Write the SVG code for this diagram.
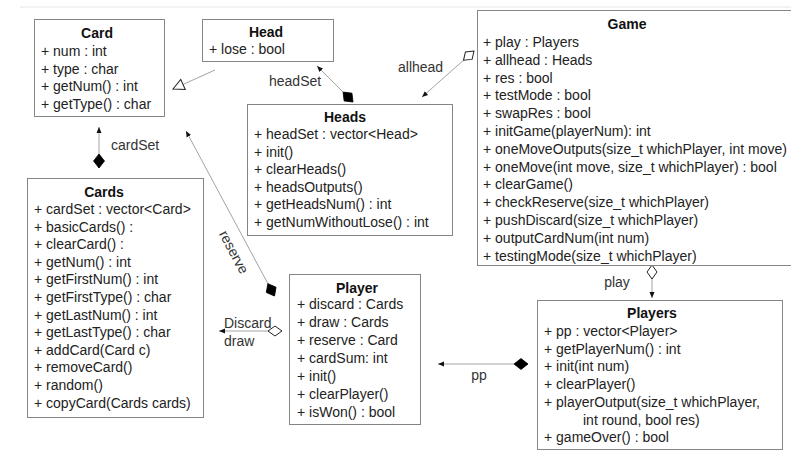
<svg xmlns="http://www.w3.org/2000/svg" width="791" height="454" viewBox="0 0 791 454">
<style>
.box{fill:#fff;stroke:#858585;stroke-width:1}
.t{font-family:"Liberation Sans",Arial,sans-serif;font-size:14px;fill:#222}
.title{font-family:"Liberation Sans",Arial,sans-serif;font-size:14px;font-weight:bold;fill:#111;text-anchor:middle}
.lbl{font-family:"Liberation Sans",Arial,sans-serif;font-size:14px;fill:#333}
.conn{fill:none;stroke:#999;stroke-width:0.9}
</style>
<defs>
<marker id="arrow" markerUnits="userSpaceOnUse" markerWidth="8" markerHeight="8" refX="6" refY="3" orient="auto" viewBox="0 0 8 6"><path d="M0,0.5 L6,3 L0,5.5 Z" fill="#111"/></marker>
<marker id="tri" markerUnits="userSpaceOnUse" markerWidth="14" markerHeight="14" refX="12" refY="7" orient="auto" viewBox="0 0 14 14"><path d="M12,7 L1,1.5 L1,12.5 Z" fill="#fff" stroke="#222" stroke-width="1"/></marker>
<marker id="dfill" markerUnits="userSpaceOnUse" markerWidth="16" markerHeight="14" refX="1" refY="7" orient="auto" viewBox="0 0 16 14"><path d="M1,7 L8,1.5 L15,7 L8,12.5 Z" fill="#000" stroke="#000" stroke-width="0.8"/></marker>
<marker id="dopen" markerUnits="userSpaceOnUse" markerWidth="16" markerHeight="14" refX="1" refY="7" orient="auto" viewBox="0 0 16 14"><path d="M1,7 L8,2 L15,7 L8,12 Z" fill="#fff" stroke="#222" stroke-width="1"/></marker>
</defs>
<line x1="20" y1="7" x2="791" y2="7" stroke="#e6e6e6" stroke-width="1"/>

<g id="connectors">
<line class="conn" x1="215" y1="70" x2="173" y2="89" marker-end="url(#tri)"/>
<line class="conn" x1="99" y1="168" x2="99" y2="127" marker-start="url(#dfill)" marker-end="url(#arrow)"/>
<text class="lbl" x="111" y="150">cardSet</text>
<line class="conn" x1="353" y1="102" x2="317" y2="66" marker-start="url(#dfill)" marker-end="url(#arrow)"/>
<text class="lbl" x="269" y="86">headSet</text>
<line class="conn" x1="474" y1="51" x2="422" y2="97" marker-start="url(#dopen)" marker-end="url(#arrow)"/>
<text class="lbl" x="398" y="72">allhead</text>
<line class="conn" x1="274.5" y1="296" x2="186" y2="131" marker-start="url(#dfill)" marker-end="url(#arrow)"/>
<text class="lbl" text-anchor="middle" transform="translate(234,252) rotate(62)" y="5">reserve</text>
<line class="conn" x1="282" y1="331" x2="219" y2="331" marker-start="url(#dopen)" marker-end="url(#arrow)"/>
<text class="lbl" x="224" y="328">Discard</text>
<text class="lbl" x="224" y="346">draw</text>
<line class="conn" x1="528" y1="364" x2="438" y2="364" marker-start="url(#dfill)" marker-end="url(#arrow)"/>
<text class="lbl" x="479" y="380" text-anchor="middle">pp</text>
<line class="conn" x1="652" y1="265" x2="652" y2="298" marker-start="url(#dopen)" marker-end="url(#arrow)"/>
<text class="lbl" x="617" y="287" text-anchor="middle">play</text>
</g>

<g id="Card">
<rect class="box" x="34.5" y="19.5" width="130" height="97"/>
<text class="title" x="97" y="38">Card</text>
<text class="t" x="41" y="56">+ num : int</text>
<text class="t" x="41" y="73.6">+ type : char</text>
<text class="t" x="41" y="91.2">+ getNum() : int</text>
<text class="t" x="41" y="108.8">+ getType() : char</text>
</g>

<g id="Head">
<rect class="box" x="202.5" y="19.5" width="131" height="42"/>
<text class="title" x="266" y="37">Head</text>
<text class="t" x="209" y="54">+ lose : bool</text>
</g>

<g id="Heads">
<rect class="box" x="247.5" y="104.5" width="205" height="131"/>
<text class="title" x="345" y="122">Heads</text>
<text class="t" x="254" y="139">+ headSet : vector&lt;Head&gt;</text>
<text class="t" x="254" y="156.6">+ init()</text>
<text class="t" x="254" y="174.2">+ clearHeads()</text>
<text class="t" x="254" y="191.8">+ headsOutputs()</text>
<text class="t" x="254" y="209.4">+ getHeadsNum() : int</text>
<text class="t" x="254" y="227">+ getNumWithoutLose() : int</text>
</g>

<g id="Game">
<rect class="box" x="477.5" y="10.5" width="330" height="255"/>
<text class="title" x="627" y="29">Game</text>
<text class="t" x="483" y="47">+ play : Players</text>
<text class="t" x="483" y="64.8">+ allhead : Heads</text>
<text class="t" x="483" y="82.6">+ res : bool</text>
<text class="t" x="483" y="100.4">+ testMode : bool</text>
<text class="t" x="483" y="118.2">+ swapRes : bool</text>
<text class="t" x="483" y="136">+ initGame(playerNum): int</text>
<text class="t" x="483" y="153.8">+ oneMoveOutputs(size_t whichPlayer, int move)</text>
<text class="t" x="483" y="171.6">+ oneMove(int move, size_t whichPlayer) : bool</text>
<text class="t" x="483" y="189.4">+ clearGame()</text>
<text class="t" x="483" y="207.2">+ checkReserve(size_t whichPlayer)</text>
<text class="t" x="483" y="225">+ pushDiscard(size_t whichPlayer)</text>
<text class="t" x="483" y="242.8">+ outputCardNum(int num)</text>
<text class="t" x="483" y="260.6">+ testingMode(size_t whichPlayer)</text>
</g>

<g id="Cards">
<rect class="box" x="27.5" y="178.5" width="176" height="239"/>
<text class="title" x="104" y="197">Cards</text>
<text class="t" x="34" y="214">+ cardSet : vector&lt;Card&gt;</text>
<text class="t" x="34" y="231.6">+ basicCards() :</text>
<text class="t" x="34" y="249.2">+ clearCard() :</text>
<text class="t" x="34" y="266.8">+ getNum() : int</text>
<text class="t" x="34" y="284.4">+ getFirstNum() : int</text>
<text class="t" x="34" y="302">+ getFirstType() : char</text>
<text class="t" x="34" y="319.6">+ getLastNum() : int</text>
<text class="t" x="34" y="337.2">+ getLastType() : char</text>
<text class="t" x="34" y="354.8">+ addCard(Card c)</text>
<text class="t" x="34" y="372.4">+ removeCard()</text>
<text class="t" x="34" y="390">+ random()</text>
<text class="t" x="34" y="407.6">+ copyCard(Cards cards)</text>
</g>

<g id="Player">
<rect class="box" x="289.5" y="274.5" width="131" height="150"/>
<text class="title" x="357" y="293">Player</text>
<text class="t" x="297" y="309">+ discard : Cards</text>
<text class="t" x="297" y="327">+ draw : Cards</text>
<text class="t" x="297" y="345">+ reserve : Card</text>
<text class="t" x="297" y="363">+ cardSum: int</text>
<text class="t" x="297" y="381">+ init()</text>
<text class="t" x="297" y="399">+ clearPlayer()</text>
<text class="t" x="297" y="417">+ isWon() : bool</text>
</g>

<g id="Players">
<rect class="box" x="537.5" y="300.5" width="245" height="149"/>
<text class="title" x="652" y="318">Players</text>
<text class="t" x="544" y="336">+ pp : vector&lt;Player&gt;</text>
<text class="t" x="544" y="353.7">+ getPlayerNum() : int</text>
<text class="t" x="544" y="371.4">+ init(int num)</text>
<text class="t" x="544" y="389.1">+ clearPlayer()</text>
<text class="t" x="544" y="406.8">+ playerOutput(size_t whichPlayer,</text>
<text class="t" x="583" y="424.5">int round, bool res)</text>
<text class="t" x="544" y="442.2">+ gameOver() : bool</text>
</g>
</svg>
